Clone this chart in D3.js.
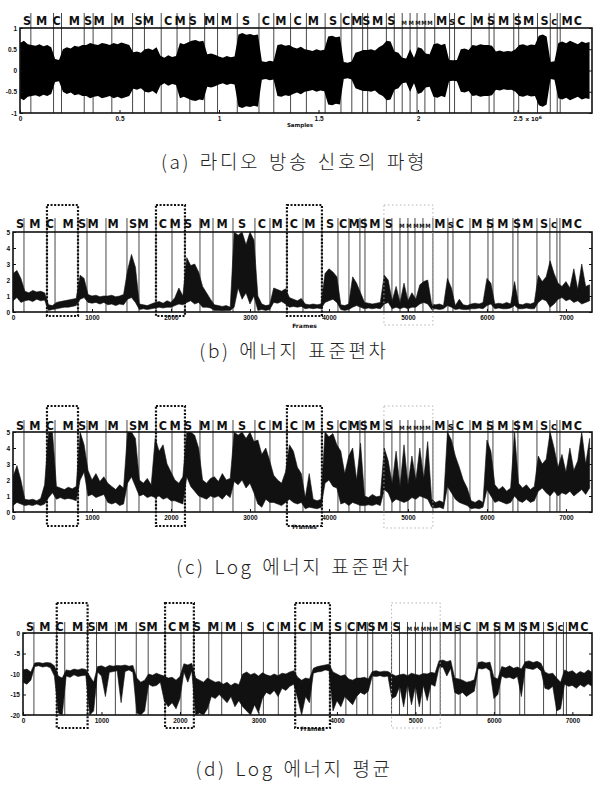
<!DOCTYPE html>
<html><head><meta charset="utf-8">
<script src="https://cdn.jsdelivr.net/npm/d3@7"></script>
<style>body{margin:0;background:#fff}svg{display:block}</style>
</head><body>
<script>
// ---------------- DATA ----------------
const STEP = 50;                 // frames between stored samples
const samplesPerFrame = 392;     // panel (a) is in samples
const frameMax = 7330;
const sampleMax = 2874000;

const boundaries = [139,430,532,823,937,1177,1443,1595,1810,2013,2177,2367,2532,2785,3063,3253,3468,3671,3911,4114,4253,4392,4456,4696,4797,4899,5000,5089,5190,5316,5506,5570,5785,6013,6076,6329,6392,6633,6797,6886,6924];

const segLabels = ["S","M","C","M","S","M","M","S","M","C","M","S","M","M","S","C","M","C","M","S","C","M","S","M","S","M","M","M","M","M","M","s","C","M","S","M","S","M","S","c","M","C"];
const segLabelPos = [89,278,468,696,873,1013,1266,1519,1646,1899,2051,2215,2430,2646,2899,3152,3342,3557,3759,4013,4180,4318,4440,4582,4759,4924,5013,5101,5177,5253,5405,5540,5658,5873,6038,6200,6380,6519,6722,6848,7013,7152];
const minorLabels = [25,26,27,28,29];

const boxStrong = [[430,823],[1810,2177],[3468,3911]];
const boxLight = [[4696,5316]];

// (a) waveform envelope amplitude
const ampA = [0.65,0.7,0.62, 0.6,0.58,0.62,0.57,0.6,0.55, 0.27,0.25, 0.5,0.55,0.52,0.58,0.56,0.6, 0.6,0.65,
 0.62,0.6,0.65,0.63,0.6, 0.65,0.62,0.66,0.63,0.6, 0.43,0.45,0.42, 0.5,0.52,0.48,0.55, 0.35,0.3,0.36,0.32,0.34,
 0.65,0.62,0.66, 0.7,0.72,0.68,0.7, 0.38,0.4,0.37, 0.33,0.3,0.34,0.31,0.33, 0.85,0.88,0.84,0.86,0.83,0.85,
 0.22,0.2,0.23,0.21, 0.6,0.62,0.58,0.6, 0.55,0.52,0.56,0.5, 0.48,0.46,0.5,0.47,0.49, 0.8,0.82,0.78,0.8,
 0.2,0.18,0.21, 0.42,0.45,0.48, 0.48,0.5,0.47,0.55,0.6, 0.7,0.68, 0.45,0.42,0.3,0.28,0.5,0.3,0.55,0.52,0.4,0.38,
 0.62,0.64,0.6,0.63, 0.25,0.24, 0.25,0.5,0.52,0.48, 0.6,0.58,0.62,0.6, 0.6,0.58, 0.45,0.47,0.44,0.46,0.45, 0.5,
 0.6,0.62,0.58,0.61,0.6, 0.82,0.85,0.8, 0.2,0.22, 0.65,0.68,0.64,0.7,0.66,0.62,0.68,0.65,0.67];

// (b) energy standard deviation: upper / lower noise envelope
const hiB = [2.4,2.6,2.1, 1.3,1.2,1.35,1.25,1.3,1.2, 0.45,0.4, 0.6,0.65,0.7,0.75,0.8,0.85, 2.3,2.1,
 1.1,1.0,1.05,0.95,1.0, 1.0,1.05,0.95,1.0,1.1, 2.6,3.6,2.8, 0.5,0.45,0.4,0.5, 0.6,0.65,0.55,0.7,0.6,
 0.9,1.5,1.0, 3.4,2.9,3.0,2.5, 1.6,1.2,0.8, 0.45,0.4,0.35,0.4,0.3, 5.0,4.8,5.0,4.2,5.0,4.5,
 1.0,0.5,0.4,0.45, 1.5,1.4,1.3,1.45, 0.9,0.8,0.7,0.85, 0.5,0.45,0.5,0.45,0.5, 2.4,2.7,2.5,2.2,
 0.45,0.4,0.5, 2.2,1.8,1.2, 0.6,0.55,0.5,0.55,0.6, 2.3,2.0, 0.7,1.6,0.6,1.8,0.7,1.2,0.8,1.7,1.9,2.0,
 0.5,0.45,0.5,0.4, 2.1,1.5, 0.4,0.8,0.45,0.4, 0.5,0.55,0.5,0.6, 2.1,1.8, 0.5,0.55,0.5,0.6,0.5, 1.9,
 0.5,0.45,0.55,0.5,0.6, 2.3,1.9,2.2, 3.2,2.4, 1.8,1.6,1.9,1.5,2.7,1.4,3.0,1.6,1.7];
const loB = [0.7,0.9,0.6, 0.7,0.75,0.65,0.8,0.7,0.75, 0.1,0.15, 0.2,0.25,0.3,0.3,0.35,0.4, 0.8,0.9,
 0.6,0.55,0.6,0.5,0.6, 0.45,0.5,0.4,0.5,0.45, 0.8,0.9,0.6, 0.15,0.2,0.15,0.2, 0.25,0.3,0.25,0.3,0.3,
 0.4,0.5,0.45, 0.6,0.7,0.5,0.6, 0.3,0.3,0.25, 0.1,0.1,0.08,0.1,0.1, 0.3,1.5,0.8,1.2,0.5,1.0,
 0.1,0.15,0.1,0.15, 0.6,0.55,0.65,0.5, 0.3,0.35,0.3,0.35, 0.2,0.25,0.2,0.25,0.2, 0.6,0.7,0.8,0.6,
 0.15,0.1,0.15, 0.3,0.4,0.3, 0.2,0.25,0.2,0.25,0.2, 0.5,0.6, 0.2,0.3,0.2,0.3,0.2,0.3,0.3,0.5,0.6,0.5,
 0.15,0.2,0.15,0.2, 0.4,0.3, 0.15,0.2,0.15,0.15, 0.2,0.2,0.25,0.2, 0.4,0.5, 0.2,0.25,0.2,0.2,0.25, 0.4,
 0.2,0.2,0.25,0.2,0.2, 0.6,0.8,0.7, 0.3,0.5, 0.8,0.9,0.7,0.8,0.6,0.7,0.5,0.6,0.7];

// (c) log energy standard deviation
const hiC = [2.2,2.9,2.0, 0.8,0.75,0.8,0.7,0.85,1.7, 5.0,5.0, 1.6,1.5,1.4,1.55,1.45,1.6, 5.0,4.2,
 2.6,2.0,2.4,1.9,2.2, 1.8,1.6,1.4,1.7,1.5, 5.0,5.0,4.6, 2.0,1.8,2.1,1.7, 4.6,3.8,4.2,3.0,2.5,
 2.0,1.8,2.2, 5.0,5.0,4.8,4.0, 2.0,1.8,2.1, 2.2,1.9,2.4,2.0,2.1, 5.0,4.8,5.0,4.6,5.0,4.4,
 4.5,3.6,4.0,3.2, 2.3,2.0,1.8,2.5, 4.2,3.8,2.8,2.4, 0.9,2.4,0.8,0.7,0.8, 5.0,4.7,4.9,4.2,
 3.8,2.4,3.5, 4.0,2.0,4.3, 1.0,0.9,1.1,0.95,1.0, 4.0,3.2, 1.8,3.8,1.6,4.2,1.7,3.5,2.0,4.0,2.1,4.4,
 0.8,0.6,0.7,0.6, 5.0,4.5, 3.5,2.8,2.0,1.5, 0.7,0.6,0.75,0.6, 4.5,3.8, 1.7,1.4,1.6,1.3,1.5, 5.0,
 1.8,1.5,1.7,1.4,1.6, 3.5,3.0,3.3, 5.0,4.0, 2.8,3.6,2.5,4.0,2.6,3.2,5.0,3.0,4.6];
const loC = [0.4,0.6,0.5, 0.4,0.45,0.4,0.5,0.4,0.5, 0.9,1.2, 0.8,0.9,0.8,0.85,0.8,0.7, 2.0,2.5,
 1.0,1.1,0.9,1.0,1.1, 0.6,0.5,0.6,0.4,0.5, 1.8,2.2,1.6, 1.0,1.1,0.9,1.0, 0.9,1.0,0.8,0.9,0.7,
 0.7,0.6,0.5, 2.2,1.6,1.3,1.0, 0.9,0.8,1.0, 0.9,1.0,0.8,1.1,0.9, 1.9,1.7,2.0,1.5,1.8,1.2,
 0.5,0.3,0.8,0.6, 0.6,0.5,0.4,0.6, 0.8,0.6,0.5,0.6, 0.2,0.3,0.25,0.2,0.3, 1.8,2.0,1.6,1.5,
 0.5,0.6,0.4, 0.6,0.5,0.4, 0.4,0.45,0.4,0.5,0.4, 1.4,1.2, 0.6,0.8,0.7,0.6,0.7,0.9,0.8,1.0,0.9,0.8,
 0.3,0.25,0.3,0.2, 1.6,1.2, 0.8,0.6,0.5,0.4, 0.2,0.25,0.2,0.3, 1.4,1.0, 0.6,0.7,0.6,0.5,0.6, 1.0,
 0.7,0.6,0.8,0.6,0.7, 1.3,1.5,1.2, 1.0,1.3, 1.0,1.2,1.1,1.3,1.0,1.2,1.4,1.1,1.5];

// (d) log energy mean
const hiD = [-9,-8.8,-9.5, -7.3,-7.2,-7.4,-7.2,-7.3,-8.0, -10.5,-11, -9.0,-9.2,-8.8,-9.0,-8.7,-8.9, -10.5,-12,
 -8.2,-8.0,-8.4,-7.9,-8.1, -7.9,-8.0,-7.8,-8.1,-7.9, -11.0,-12.0,-11.5, -10.0,-10.3,-9.8,-10.2, -10.5,-11.0,-10.8,-11.5,-10.6,
 -7.5,-7.8,-7.4, -11,-11.5,-12,-11, -11.5,-12,-11.8, -12.5,-12.0,-12.8,-12.2,-12.6, -10.0,-9.5,-10.2,-9.8,-10.5,-9.7,
 -10.2,-10.5,-10.0,-10.4, -9.8,-10.0,-9.5,-9.2, -10.8,-11.5,-11.0,-11.2, -8.6,-8.2,-8.0,-7.8,-7.6, -9.5,-10.0,-10.5,-10.2,
 -11.2,-11.5,-11.0, -11.0,-10.8,-11.2, -9.4,-9.2,-9.5,-9.3,-9.4, -10.0,-10.5, -10.2,-10.0,-10.4,-9.8,-10.1,-10.3,-9.9,-10.0,-9.6,-9.8,
 -6.8,-6.6,-7.0,-6.7, -11.0,-11.2, -11.5,-12.0,-11.8,-11.4, -7.2,-7.0,-7.3,-7.1, -10.8,-11.2, -8.2,-8.5,-8.0,-8.6,-8.3, -8.8,
 -7.0,-6.8,-7.2,-6.9,-7.4, -9.5,-10.0,-9.8, -11,-12, -9.0,-9.5,-9.2,-10.0,-9.4,-9.8,-9.0,-9.6,-9.3];
const loD = [-12,-12.5,-11.5, -8.2,-8.0,-8.3,-8.1,-8.5,-10.5, -19.5,-20, -10.5,-10.8,-10.2,-10.6,-10.4,-10.3, -20,-19,
 -9.5,-10.5,-15.5,-9.6,-9.4, -9.2,-17.0,-9.4,-9.0,-9.6, -19.5,-20,-19, -12.5,-13.0,-12.8,-12.0, -16.5,-18,-17,-18.5,-16,
 -9.5,-12.0,-9.2, -20,-19.5,-20,-18.5, -15.5,-16,-15, -16,-17,-15.5,-18,-16.5, -18,-19,-20,-17.5,-19.5,-16,
 -14.5,-15,-14,-15.5, -13.5,-14,-13,-12.5, -16,-20,-15.5,-17, -9.8,-9.5,-9.4,-9.0,-9.2, -19,-16.5,-18,-15.5,
 -16.5,-17.5,-15.5, -14.5,-15,-14.2, -10.5,-10.6,-10.4,-10.7,-10.5, -16,-15.5, -13,-18,-12.5,-17.5,-13,-18,-12.8,-16.5,-12.5,-13,
 -8.5,-8.3,-10.5,-8.6, -14.5,-15, -14.5,-15.5,-14.8,-14.2, -8.6,-8.8,-8.5,-9.2, -16,-15, -10.5,-11,-10.8,-11.2,-10.6, -15.5,
 -8.5,-8.7,-8.9,-8.4,-9.2, -13.5,-13.8,-13.0, -19,-18.5, -12.5,-13,-12.8,-13.5,-12.6,-13.2,-12.4,-13,-12.7];

const ticksA_x = [0,500000,1000000,1500000,2000000,2500000];
const ticksA_y = [-1,-0.5,0,0.5,1];
const ticksFrames = [0,1000,2000,3000,4000,5000,6000,7000];
const ticksB_y = [0,1,2,3,4,5];
const ticksC_y = [0,1,2,3,4,5];
const ticksD_y = [-20,-15,-10,-5,0];

const captions = ["(a) 라디오 방송 신호의 파형","(b) 에너지 표준편차","(c) Log 에너지 표준편차","(d) Log 에너지 평균"];

// ---------------- LAYOUT ----------------
const W = 595, H = 785;
const svg = d3.select("body").append("svg").attr("width",W).attr("height",H)
  .style("font-family","'DejaVu Sans', sans-serif");

const L = {
  a:{left:20,right:592,top:28,bottom:113,labelY:25,lineTop:13,cap:169},
  b:{left:13,right:592,top:232,bottom:312,labelY:228,lineTop:218,cap:358,boxTop:205,boxBottom:316,lightBottom:325,xlabY:325},
  c:{left:13,right:592,top:432,bottom:512,labelY:430,lineTop:420,cap:574,boxTop:406,boxBottom:526,lightBottom:528,xlabY:526},
  d:{left:23,right:592,top:633,bottom:715,labelY:631,lineTop:622,cap:776,boxTop:603,boxBottom:728,lightBottom:728,xlabY:728}
};
const INK = "#111";

function panel(key, xScaleFrames, y, yTicks, yFmt, xTicks, xAxisScale, xFmt, drawSignal, opts){
  const l = L[key];
  const g = svg.append("g");
  const clipId = "clip"+key;
  g.append("clipPath").attr("id",clipId).append("rect")
    .attr("x",l.left).attr("y",l.top).attr("width",l.right-l.left).attr("height",l.bottom-l.top);

  // segment boundaries
  g.append("g").selectAll("line").data(boundaries).join("line")
    .attr("x1",d=>xScaleFrames(d)).attr("x2",d=>xScaleFrames(d))
    .attr("y1",l.lineTop).attr("y2",l.bottom)
    .attr("stroke","#333").attr("stroke-width",0.9);

  // signal
  drawSignal(g.append("g").attr("clip-path",`url(#${clipId})`));

  // frame
  g.append("rect").attr("x",l.left).attr("y",l.top).attr("width",l.right-l.left).attr("height",l.bottom-l.top)
    .attr("fill","none").attr("stroke",INK).attr("stroke-width",1.6);

  // axes
  const yl = g.append("g").attr("transform",`translate(${l.left},0)`)
    .call(d3.axisLeft(y).tickValues(yTicks).tickSize(-3).tickPadding(3).tickFormat(yFmt));
  const yr = g.append("g").attr("transform",`translate(${l.right},0)`)
    .call(d3.axisRight(y).tickValues(yTicks).tickSize(-3).tickFormat(""));
  const xb = g.append("g").attr("transform",`translate(0,${l.bottom})`)
    .call(d3.axisBottom(xAxisScale).tickValues(xTicks).tickSize(-3).tickPadding(3).tickFormat(xFmt));
  [yl,yr,xb].forEach(ax=>{
    ax.select(".domain").remove();
    ax.selectAll("line").attr("stroke",INK).attr("stroke-width",1);
    ax.selectAll("text").attr("fill",INK).attr("font-size",6.5).attr("font-weight","bold");
  });

  // segment labels
  g.append("g").selectAll("text").data(segLabels).join("text")
    .attr("x",(d,i)=>xScaleFrames(segLabelPos[i]))
    .attr("y",l.labelY)
    .attr("text-anchor","middle")
    .attr("font-family","'DejaVu Sans Condensed','DejaVu Sans',sans-serif")
    .attr("font-weight","bold")
    .attr("font-size",(d,i)=>minorLabels.includes(i)?6:(d==="s"||d==="c"?11:12.5))
    .attr("fill",INK)
    .text(d=>d);

  // dotted boxes
  if(opts && opts.boxes){
    g.append("g").selectAll("rect").data(boxStrong).join("rect")
      .attr("x",d=>xScaleFrames(d[0])).attr("width",d=>xScaleFrames(d[1])-xScaleFrames(d[0]))
      .attr("y",l.boxTop).attr("height",l.boxBottom-l.boxTop)
      .attr("fill","none").attr("stroke","#111").attr("stroke-width",2.2).attr("stroke-dasharray","2,1.6");
    g.append("g").selectAll("rect").data(boxLight).join("rect")
      .attr("x",d=>xScaleFrames(d[0])).attr("width",d=>xScaleFrames(d[1])-xScaleFrames(d[0]))
      .attr("y",l.boxTop).attr("height",l.lightBottom-l.boxTop)
      .attr("fill","none").attr("stroke","#aaa").attr("stroke-width",0.9).attr("stroke-dasharray","1.5,2.5");
    g.append("text").attr("x",xScaleFrames(3690)).attr("y",l.xlabY+3)
      .attr("text-anchor","middle").attr("font-size",6).attr("font-weight","bold").attr("fill",INK).text("Frames");
  }

  // caption
  svg.append("text").attr("x",294).attr("y",l.cap).attr("text-anchor","middle")
    .attr("font-family","'Noto Sans CJK KR', sans-serif").attr("font-weight",300)
    .attr("font-size",19).attr("letter-spacing",2.6).attr("word-spacing",2).attr("fill","#222")
    .text(captions[["a","b","c","d"].indexOf(key)]);
  return g;
}

function bandSignal(g, x, y, hi, lo){
  const data = hi.map((h,i)=>[i*STEP,h,lo[i]]);
  g.append("path").datum(data)
    .attr("d", d3.area().x(d=>x(d[0])).y0(d=>y(d[2])).y1(d=>y(d[1])))
    .attr("fill","#111").attr("stroke","#111").attr("stroke-width",0.6);
}

// ----- panel a -----
{
  const l = L.a;
  const xs = d3.scaleLinear().domain([0,sampleMax]).range([l.left,l.right]);
  const xf = f => xs(f*samplesPerFrame);
  const y = d3.scaleLinear().domain([-1,1]).range([l.bottom,l.top]);
  panel("a", xf, y, ticksA_y, d=>String(d), ticksA_x, xs, d=>String(d/1e6), g=>{
    g.append("path").datum(ampA.map((a,i)=>[i*STEP,a]))
      .attr("d", d3.area().x(d=>xf(d[0])).y0(d=>y(-d[1])).y1(d=>y(d[1])))
      .attr("fill","#000");
  });
  const t = svg.append("text").attr("x",xs(2500000)+8).attr("y",l.bottom+8)
    .attr("font-size",5.5).attr("font-weight","bold").attr("fill",INK);
  t.append("tspan").text("x 10");
  t.append("tspan").attr("dy",-2).attr("font-size",4.5).text("6");
  svg.append("text").attr("x",300).attr("y",l.bottom+14).attr("text-anchor","middle")
    .attr("font-size",5.5).attr("font-weight","bold").attr("fill",INK).text("Samples");
}
// ----- panel b -----
{
  const l = L.b;
  const x = d3.scaleLinear().domain([0,frameMax]).range([l.left,l.right]);
  const y = d3.scaleLinear().domain([0,5]).range([l.bottom,l.top]);
  panel("b", x, y, ticksB_y, d=>String(d), ticksFrames, x, d3.format("d"), g=>bandSignal(g,x,y,hiB,loB), {boxes:true});
}
// ----- panel c -----
{
  const l = L.c;
  const x = d3.scaleLinear().domain([0,frameMax]).range([l.left,l.right]);
  const y = d3.scaleLinear().domain([0,5]).range([l.bottom,l.top]);
  panel("c", x, y, ticksC_y, d=>String(d), ticksFrames, x, d3.format("d"), g=>bandSignal(g,x,y,hiC,loC), {boxes:true});
}
// ----- panel d -----
{
  const l = L.d;
  const x = d3.scaleLinear().domain([0,7250]).range([l.left,l.right]);
  const y = d3.scaleLinear().domain([-20,0]).range([l.bottom,l.top]);
  panel("d", x, y, ticksD_y, d=>String(d), ticksFrames, x, d3.format("d"), g=>bandSignal(g,x,y,hiD,loD), {boxes:true});
}
</script>
</body></html>
